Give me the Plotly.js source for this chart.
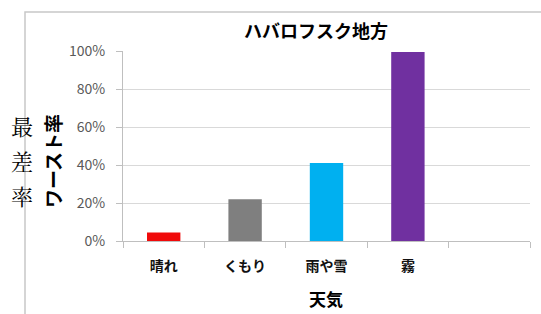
<!DOCTYPE html>
<html><head><meta charset="utf-8">
<script src="https://cdn.plot.ly/plotly-3.0.1.min.js"></script>
<style>html,body{margin:0;padding:0;background:#fff}#c{width:541px;height:314px}</style>
</head><body><div id="c"></div>
<script>
const categories = ['晴れ', 'くもり', '雨や雪', '霧', ' '];
const values = [0.045, 0.22, 0.41, 0.995, null];
const colors = ['#f00a0a', '#7f7f7f', '#00b0f0', '#7030a0', '#ffffff'];
const yTickVals = [0, 0.2, 0.4, 0.6, 0.8, 1.0];
const yTickText = ['0%', '20%', '40%', '60%', '80%', '100%'];
const titleText = 'ハバロフスク地方';
const xTitle = '天気';
const yTitle = 'ワースト率';
const sideChars = ['最', '差', '率'];

const L = 123, R = 11, T = 51, B = 73, W = 541, H = 314;
const pw = W - L - R, ph = H - T - B;
const px = x => (x - L) / pw;
const py = y => (H - B - y) / ph;

const font = 'Noto Sans CJK JP, sans-serif';
const annotations = [
  {text: titleText, xref: 'paper', yref: 'paper', x: px(316), y: py(30), showarrow: false,
   font: {family: font, size: 18, color: '#000', weight: 'bold'}, xanchor: 'center', yanchor: 'middle'},
  {text: xTitle, xref: 'paper', yref: 'paper', x: px(326), y: py(298), showarrow: false,
   font: {family: font, size: 17, color: '#000', weight: 'bold'}, xanchor: 'center', yanchor: 'middle'},
  {text: yTitle, xref: 'paper', yref: 'paper', x: px(52), y: py(161), showarrow: false, textangle: -90,
   font: {family: font, size: 19, color: '#000', weight: 'bold'}, xanchor: 'center', yanchor: 'middle'}
];
sideChars.forEach((c, i) => annotations.push({
  text: c, xref: 'paper', yref: 'paper', x: px(22), y: py(125 + i * 35), showarrow: false,
  font: {family: 'Noto Serif CJK JP, Noto Sans CJK JP, serif', size: 22, color: '#000'},
  xanchor: 'center', yanchor: 'middle'
}));

const data = [{
  type: 'bar', x: categories, y: values, marker: {color: colors}, width: 0.41, hoverinfo: 'skip'
}];
const layout = {
  width: W, height: H, margin: {l: L, r: R, t: T, b: B},
  paper_bgcolor: '#fff', plot_bgcolor: '#fff', showlegend: false,
  xaxis: {type: 'category', tickson: 'boundaries', ticks: 'outside', ticklen: 6, tickcolor: '#bfbfbf',
    showline: true, linecolor: '#bfbfbf', linewidth: 1, showgrid: false, zeroline: false,
    tickfont: {family: font, size: 14, color: '#111', weight: 'bold'}, ticklabelstandoff: 12,
    range: [-0.5, 4.5], fixedrange: true},
  yaxis: {range: [0, 1.0], tickvals: yTickVals, ticktext: yTickText, ticks: 'outside', ticklen: 6,
    tickcolor: '#bfbfbf', showline: true, linecolor: '#bfbfbf', showgrid: true, gridcolor: '#d9d9d9',
    zeroline: false, tickfont: {family: font, size: 14, color: '#595959'}, ticklabelstandoff: 8},
  annotations: annotations,
  shapes: [{type: 'path', xref: 'paper', yref: 'paper',
    path: `M ${px(25)} ${py(H + 5)} L ${px(25)} ${py(12)} L ${px(W + 5)} ${py(12)}`,
    line: {color: '#c8c8c8', width: 1.5}}]
};
Plotly.newPlot('c', data, layout, {staticPlot: true});
</script></body></html>
